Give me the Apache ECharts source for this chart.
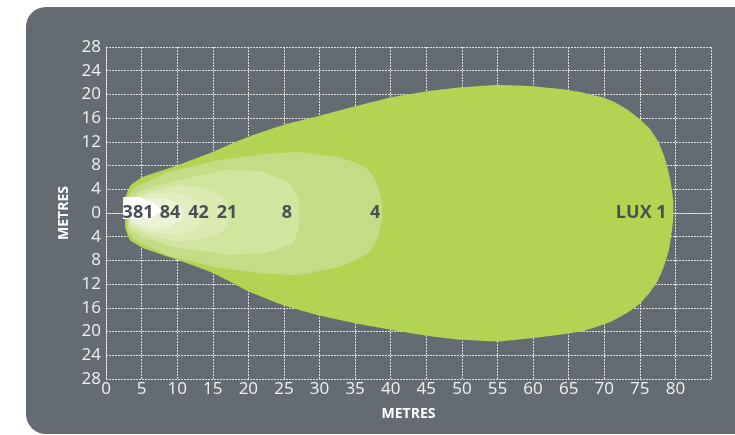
<!DOCTYPE html>
<html><head><meta charset="utf-8">
<script src="https://cdn.jsdelivr.net/npm/echarts@6/dist/echarts.min.js"></script>
<style>html,body{margin:0;padding:0;background:#fff}#c{width:735px;height:435px}</style>
</head><body><div id="c"></div>
<script>
// Tick labels
var xTicks = [0,5,10,15,20,25,30,35,40,45,50,55,60,65,70,75,80];
var yTicks = [-28,-24,-20,-16,-12,-8,-4,0,4,8,12,16,20,24,28];

// Iso-lux contours [metres ahead, metres lateral]
var lux1 = [[2.7,-2.5],[2.7,2.5],[3.4,4.6],[5.0,6.0],[10.0,8.0],[14.6,10.1],[18.4,12.1],[21,13.3],[25,14.9],[30,16.4],[35,18.0],[40,19.5],[45,20.5],[50,21.2],[55,21.6],[60,21.4],[64,20.9],[67,20.3],[69.5,19.6],[71.5,18.7],[73.3,17.4],[75,15.8],[76.4,14.2],[77.6,12.0],[78.6,9.0],[79.3,5.5],[79.7,2.0],[79.7,-1.0],[79.5,-3.0],[79.1,-6.2],[78.4,-9.0],[77.5,-11.5],[76.2,-13.7],[74.8,-15.5],[73,-17.0],[71,-18.3],[69,-19.2],[67,-19.9],[64,-20.5],[60,-21.1],[55,-21.7],[50,-21.4],[45,-20.7],[40,-19.7],[35,-18.6],[30,-17.3],[25,-15.6],[20,-13.2],[17,-11.3],[14.6,-9.9],[10,-7.9],[5.2,-5.9],[3.4,-4.6]];
var lux4 = [[3.0,-2.5],[3.0,2.5],[4,4.3],[8.7,6.9],[15.7,8.9],[22,9.9],[26.8,10.3],[32.8,9.4],[35,8.5],[36.6,7.6],[37.6,6.2],[38.3,4.3],[38.8,1.7],[38.8,-1.2],[38.3,-3.8],[37.6,-5.6],[37,-6.7],[35,-8.0],[32.8,-9.1],[26.8,-10.5],[22,-10.2],[15.7,-9.2],[8.7,-7.2],[4,-4.5],[3.0,-2.8]];
var lux8 = [[3.2,-2.3],[3.2,2.3],[5,3.8],[10,5.5],[17.1,7.3],[22,7.0],[25.8,5.1],[27,2.7],[27.2,0],[27,-2.9],[26.3,-5.1],[22.6,-6.7],[17.4,-7.1],[10,-5.8],[5,-4.0],[3.2,-2.5]];
var lux21 = [[3.3,-2.0],[3.3,2.0],[6,3.5],[10,4.7],[12.8,4.4],[15.5,3.5],[17,2.2],[17.2,0],[17,-2.4],[15.5,-3.7],[12.8,-4.5],[10,-4.9],[6,-3.8],[3.3,-2.1]];
var lux42 = [[3.4,-1.8],[3.4,1.8],[6,3.0],[9,3.5],[11.5,3.0],[13.5,1.6],[14,0],[13.5,-1.7],[11.5,-3.2],[9,-3.7],[6,-3.2]];
var lux84 = [[3.5,-1.5],[3.5,1.5],[6,2.5],[8.5,2.5],[10.5,1.2],[11,0],[10.5,-1.3],[8.5,-2.6],[6,-2.6]];
var lux381 = [[2.4,-1.0],[2.4,2.7],[4.6,2.7],[6.5,1.8],[8,0.5],[6.5,-0.8],[4.6,-1.0]];

var contourNames = ['LUX 1','4','8','21','42','84','381'];
var contours = [lux1, lux4, lux8, lux21, lux42, lux84, lux381];
var contourColors = ['#b3d453','#c5dc86','#d2e59e','#daeab1','#e2eec2','#eaf3d4','#ffffff'];
// Label positions (x centre in metres)
var labelX = [75.2, 37.8, 25.4, 17.0, 13.0, 9.0, 4.5];

var chart = echarts.init(document.getElementById('c'), null, {renderer:'canvas'});
var series = contours.map(function(pts, i){
  return {
    type:'custom', name: contourNames[i], coordinateSystem:'cartesian2d',
    data:[0], silent:true, z: 2 + i,
    renderItem: function(params, api){
      return {type:'polygon', shape:{points: pts.map(function(p){return api.coord(p);}), smooth: i===0 ? 0.12 : 0},
        style:{fill: contourColors[i]}};
    }
  };
});
series.push({
  type:'custom', coordinateSystem:'cartesian2d', z: 20, silent:true,
  data: labelX.map(function(x, i){ return [x, 0, contourNames[i]]; }),
  renderItem: function(params, api){
    var p = api.coord([api.value(0), api.value(1)]);
    var t = contourNames[params.dataIndex];
    return {type:'text', x:p[0], y:p[1], style:{text:t, fill:'#4a4f55', font:'bold 18px "Open Sans"', align:'center', verticalAlign:'middle'}};
  }
});

var dotted = {color:'rgba(235,235,235,0.9)', width:1, type:[2,1]};
chart.setOption({
  backgroundColor:'#ffffff',
  animation:false,
  graphic:[{type:'rect', z:-100, silent:true, shape:{x:26, y:7, width:760, height:427, r:20}, style:{fill:'#656b72'}}],
  grid:{left:106, right:24, top:47, bottom:56},
  xAxis:{type:'value', min:0, max:85, interval:5,
    name:'METRES', nameLocation:'middle', nameGap:28,
    nameTextStyle:{color:'#ffffff', fontSize:14, fontWeight:'bold', fontFamily:'Open Sans'},
    axisLine:{show:true, lineStyle:dotted}, axisTick:{show:false},
    axisLabel:{color:'#f0f0f0', fontSize:17, fontFamily:'Open Sans', margin:2,
      formatter:function(v){ return xTicks.indexOf(v) >= 0 ? String(v) : ''; }},
    splitLine:{show:true, lineStyle:dotted}},
  yAxis:{type:'value', min:-28, max:28, interval:4,
    name:'METRES', nameLocation:'middle', nameGap:29,
    nameTextStyle:{color:'#ffffff', fontSize:14, fontWeight:'bold', fontFamily:'Open Sans'},
    axisLine:{show:true, lineStyle:dotted}, axisTick:{show:false},
    axisLabel:{color:'#f0f0f0', fontSize:17, fontFamily:'Open Sans', margin:5,
      formatter:function(v){ return yTicks.indexOf(v) >= 0 ? String(Math.abs(v)) : ''; }},
    splitLine:{show:true, lineStyle:dotted}},
  series: series
});
</script></body></html>
